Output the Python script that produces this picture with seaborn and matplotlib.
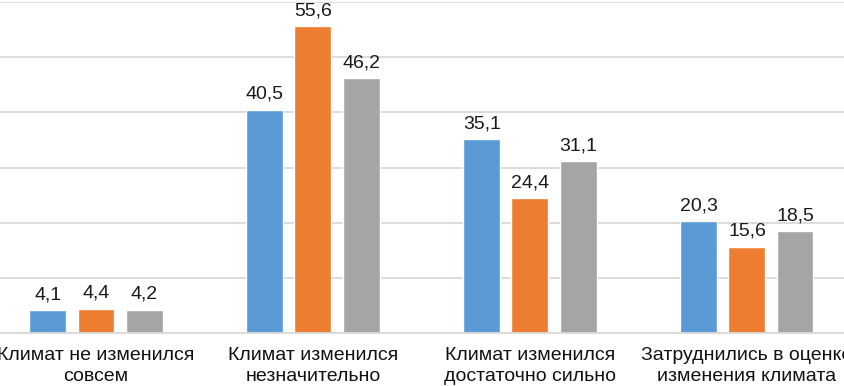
import pandas as pd
import numpy as np
import matplotlib.pyplot as plt
import seaborn as sns

categories = ['Климат не изменился\nсовсем', 'Климат изменился\nнезначительно',
              'Климат изменился\nдостаточно сильно', 'Затруднились в оценке\nизменения климата']
series = ['Ряд 1', 'Ряд 2', 'Ряд 3']
values_1 = [4.1, 40.5, 35.1, 20.3]
values_2 = [4.4, 55.6, 24.4, 15.6]
values_3 = [4.2, 46.2, 31.1, 18.5]
colors = ['#5B9BD5', '#ED7D31', '#A5A5A5']

df = pd.DataFrame({
    'category': categories * 3,
    'series': [series[0]] * 4 + [series[1]] * 4 + [series[2]] * 4,
    'value': values_1 + values_2 + values_3,
})

sns.set_style('white')
plt.rcParams['font.family'] = ['Liberation Sans', 'DejaVu Sans']

fig = plt.figure(figsize=(8.45, 3.86), dpi=100)
ax = fig.add_axes([-0.0148, 0.1373, 1.0272, 0.8575])

sns.barplot(data=df, x='category', y='value', hue='series', palette=colors,
            width=0.664, gap=0.23, legend=False, ax=ax, saturation=1)

for c in ax.containers:
    ax.bar_label(c, labels=[f'{v:.1f}'.replace('.', ',') for v in c.datavalues],
                 padding=5, fontsize=14, color='#1a1a1a')

ax.set_ylim(0, 60)
ax.set_yticks(np.arange(0, 61, 10))
ax.yaxis.grid(True, color='#D9D9D9', linewidth=1.3)
ax.set_axisbelow(True)
ax.set_yticklabels([])
ax.tick_params(axis='both', length=0)
ax.tick_params(axis='x', labelsize=14, pad=10, labelcolor='#111111')
for t in ax.get_xticklabels():
    t.set_linespacing(1.3)
ax.set_xlabel('')
ax.set_ylabel('')
for s in ['top', 'right', 'left']:
    ax.spines[s].set_visible(False)
ax.spines['bottom'].set_color('#D9D9D9')
ax.spines['bottom'].set_linewidth(1.3)

fig.savefig('out.png', dpi=100)
plt.close(fig)
